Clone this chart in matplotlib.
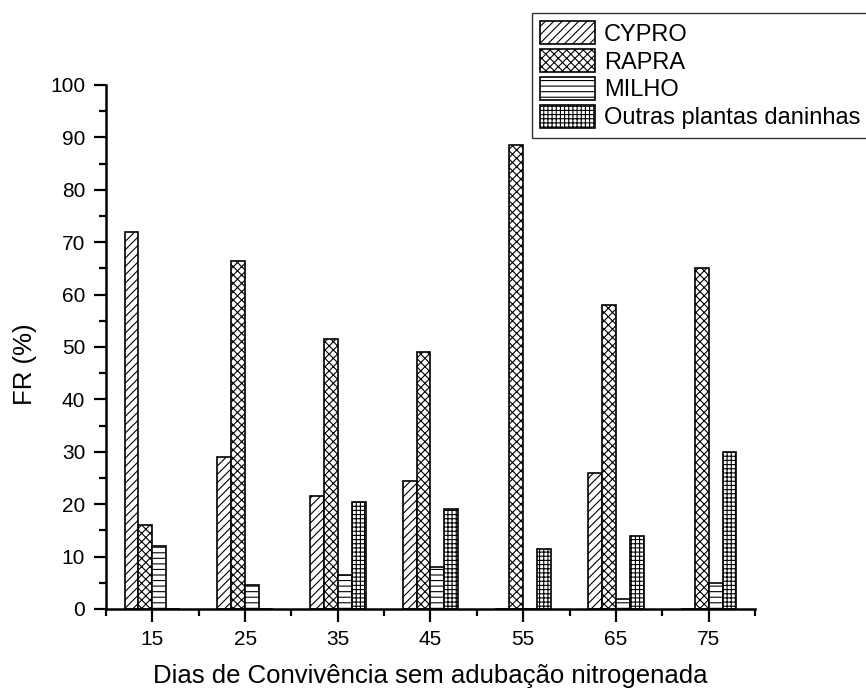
import numpy as np
import matplotlib.pyplot as plt
from matplotlib.ticker import MultipleLocator

plt.rcParams['font.family'] = ['Liberation Sans', 'DejaVu Sans']
plt.rcParams['hatch.linewidth'] = 0.8

# data
dias = [15, 25, 35, 45, 55, 65, 75]
cypro = [72, 29, 21.5, 24.5, 0, 26, 0]
rapra = [16, 66.5, 51.5, 49, 88.5, 58, 65]
milho = [12, 4.5, 6.5, 8, 0, 2, 5]
outras = [0, 0, 20.5, 19, 11.5, 14, 30]

series = [('CYPRO', cypro, '////'), ('RAPRA', rapra, 'xxxx'),
          ('MILHO', milho, '---'), ('Outras plantas daninhas', outras, '++++')]

fig = plt.figure(figsize=(8.66, 6.88), dpi=100)
ax = fig.add_axes([106 / 866, 1 - 609 / 688, 649 / 866, 524 / 688])

x = np.array(dias, dtype=float)
w = 1.5
offsets = [-1.5 * w, -0.5 * w, 0.5 * w, 1.5 * w]
for (name, vals, hatch), off in zip(series, offsets):
    ax.bar(x + off, vals, width=w, color='white', edgecolor='black',
           linewidth=1.2, hatch=hatch, label=name)

ax.set_xlim(10, 80)
ax.set_ylim(0, 100)
ax.set_xticks(dias)
ax.xaxis.set_minor_locator(MultipleLocator(10))
ax.yaxis.set_major_locator(MultipleLocator(10))
ax.yaxis.set_minor_locator(MultipleLocator(5))
ax.tick_params(axis='both', which='major', direction='out', length=9, width=1.6,
               labelsize=15, pad=6)
ax.tick_params(axis='both', which='minor', direction='out', length=5, width=1.6)
ax.spines['top'].set_visible(False)
ax.spines['right'].set_visible(False)
ax.spines['left'].set_linewidth(1.8)
ax.spines['bottom'].set_linewidth(1.8)

# axis titles
fig.text(430 / 866, 1 - 683 / 688, 'Dias de Convivência sem adubação nitrogenada',
         fontsize=18.5, ha='center', va='baseline')
fig.text(25 / 866, 1 - 364 / 688, 'FR (%)', fontsize=18.5, rotation=90,
         ha='center', va='center')

fig.legend(loc='upper right', bbox_to_anchor=(1.003, 1 - 13 / 688), fontsize=17,
           frameon=True, fancybox=False, edgecolor='#333333', framealpha=1,
           borderpad=0.35, labelspacing=0.15, handlelength=2.3, handleheight=1.1,
           handletextpad=0.4, borderaxespad=0)

fig.savefig('out.png', dpi=100)
